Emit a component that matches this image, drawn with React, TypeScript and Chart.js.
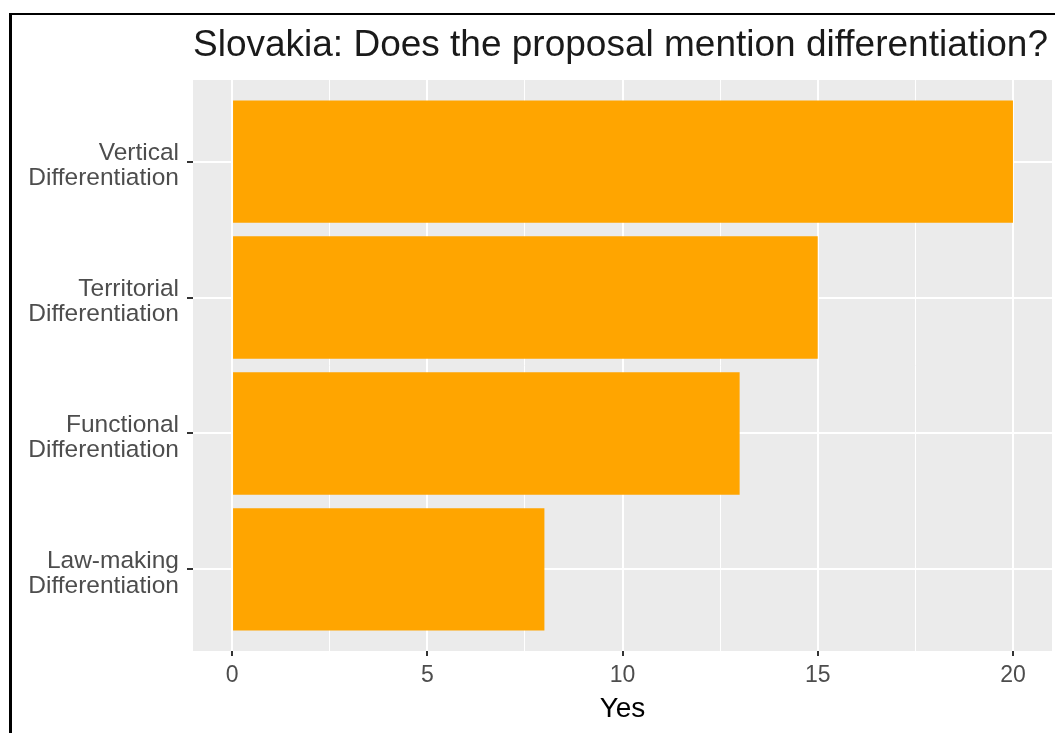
import React, { useEffect, useRef } from "react";
import { Chart, registerables } from "chart.js";

Chart.register(...registerables);

const categories: string[][] = [
  ["Vertical", "Differentiation"],
  ["Territorial", "Differentiation"],
  ["Functional", "Differentiation"],
  ["Law-making", "Differentiation"],
];
const yesValues: number[] = [20, 15, 13, 8];
const xTicks: number[] = [0, 2.5, 5, 7.5, 10, 12.5, 15, 17.5, 20];
const titleText = "Slovakia: Does the proposal mention differentiation?";
const xAxisTitle = "Yes";

const FONT = "'Liberation Sans', Arial, Helvetica, sans-serif";

export default function App() {
  const ref = useRef<HTMLCanvasElement | null>(null);

  useEffect(() => {
    if (!ref.current) return;
    const decor = {
      id: "decor",
      beforeDraw(chart: any) {
        const { ctx, chartArea } = chart;
        ctx.save();
        ctx.fillStyle = "#ffffff";
        ctx.fillRect(0, 0, chart.width, chart.height);
        ctx.fillStyle = "#ebebeb";
        ctx.fillRect(
          chartArea.left,
          chartArea.top,
          chartArea.right - chartArea.left,
          chartArea.bottom - chartArea.top
        );
        ctx.restore();
      },
      afterDraw(chart: any) {
        const { ctx, chartArea } = chart;
        ctx.save();
        ctx.strokeStyle = "#000000";
        ctx.lineWidth = 2;
        ctx.beginPath();
        ctx.moveTo(9, 14);
        ctx.lineTo(chart.width + 5, 14);
        ctx.stroke();
        ctx.lineWidth = 3;
        ctx.beginPath();
        ctx.moveTo(10.5, 13);
        ctx.lineTo(10.5, chart.height + 5);
        ctx.stroke();
        ctx.fillStyle = "#1a1a1a";
        ctx.font = `37px ${FONT}`;
        ctx.textAlign = "left";
        ctx.textBaseline = "alphabetic";
        ctx.fillText(titleText, chartArea.left, 56);
        ctx.fillStyle = "#000000";
        ctx.font = `28px ${FONT}`;
        ctx.textAlign = "center";
        ctx.fillText(xAxisTitle, (chartArea.left + chartArea.right) / 2, 717);
        ctx.restore();
      },
    };

    const chart = new Chart(ref.current, {
      type: "bar",
      data: {
        datasets: [
          {
            label: xAxisTitle,
            data: yesValues.map((v, i) => ({ x: v, y: i })),
            backgroundColor: "#FFA500",
            borderWidth: 0,
            barPercentage: 0.9,
            categoryPercentage: 1,
          },
        ],
      },
      options: {
        indexAxis: "y",
        animation: false,
        responsive: false,
        layout: { padding: { top: 80, right: 3, left: 0, bottom: 0 } },
        plugins: {
          legend: { display: false },
          title: { display: false },
          tooltip: { enabled: false },
        },
        scales: {
          x: {
            type: "linear",
            min: -1,
            max: 21,
            afterBuildTicks: (scale: any) => {
              scale.ticks = xTicks.map((v) => ({ value: v }));
            },
            afterFit: (scale: any) => {
              scale.height = 82;
            },
            border: { display: false },
            grid: {
              color: "#ffffff",
              lineWidth: (ctx: any) => (ctx.tick && ctx.tick.value % 5 === 0 ? 2 : 1),
              tickColor: (ctx: any) =>
                ctx.tick && ctx.tick.value % 5 === 0 ? "#333333" : "rgba(0,0,0,0)",
              tickWidth: 2,
              tickLength: 5,
            },
            ticks: {
              autoSkip: false,
              maxRotation: 0,
              padding: 6,
              color: "#4d4d4d",
              font: { family: FONT, size: 23 },
              callback: (v: any) => (Number(v) % 5 === 0 ? String(v) : ""),
            },
          },
          y: {
            type: "linear",
            reverse: true,
            offset: false,
            min: -0.6,
            max: 3.6,
            afterBuildTicks: (scale: any) => {
              scale.ticks = categories.map((_, i) => ({ value: i }));
            },
            afterFit: (scale: any) => {
              scale.width = 193;
            },
            border: { display: false },
            grid: {
              offset: false,
              color: "#ffffff",
              lineWidth: 2,
              tickColor: "#333333",
              tickWidth: 2,
              tickLength: 6,
            },
            ticks: {
              autoSkip: false,
              padding: 8,
              labelOffset: 4,
              color: "#4d4d4d",
              font: { family: FONT, size: 24.5, lineHeight: 1.03 },
              callback: (v: any) => categories[Number(v)] ?? "",
            },
          },
        },
      },
      plugins: [decor],
    } as any);

    return () => chart.destroy();
  }, []);

  return (
    <div style={{ position: "fixed", left: 0, top: 0, width: 1055, height: 733 }}>
      <canvas ref={ref} width={1055} height={733} />
    </div>
  );
}
